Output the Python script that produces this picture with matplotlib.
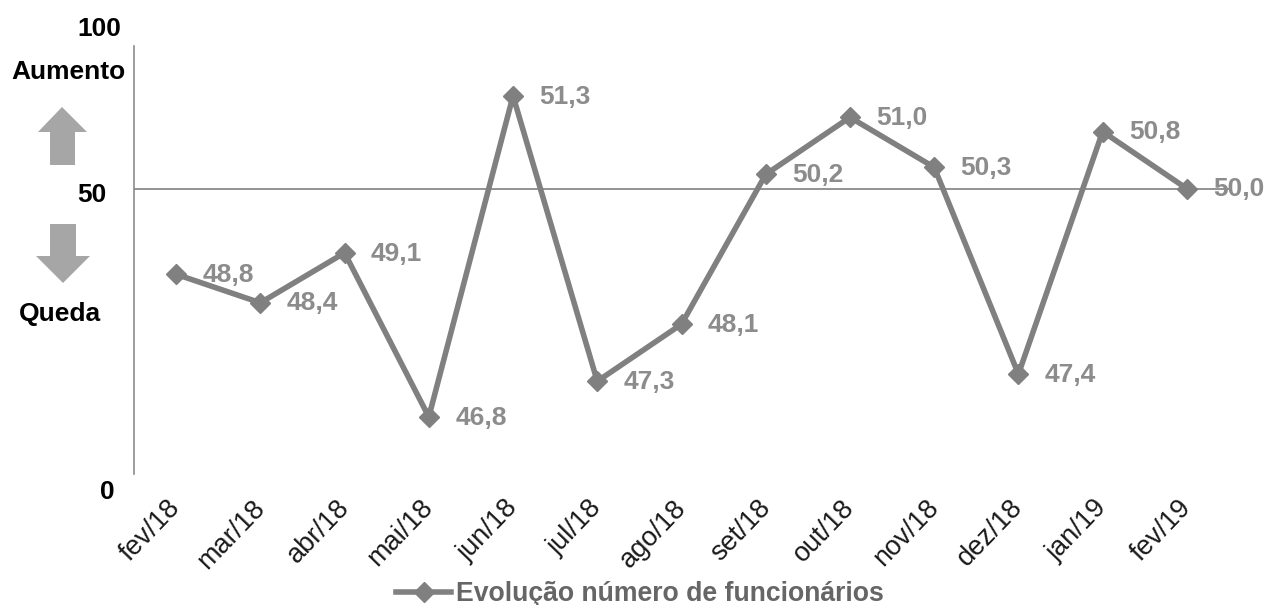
import matplotlib
matplotlib.use("Agg")
import matplotlib.pyplot as plt
from matplotlib.patches import Polygon
from matplotlib.transforms import ScaledTranslation

plt.rcParams['font.family'] = ['Liberation Sans', 'DejaVu Sans']

W, H = 1267, 605

months = ["fev/18", "mar/18", "abr/18", "mai/18", "jun/18", "jul/18", "ago/18",
          "set/18", "out/18", "nov/18", "dez/18", "jan/19", "fev/19"]
values = [48.8, 48.4, 49.1, 46.8, 51.3, 47.3, 48.1, 50.2, 51.0, 50.3, 47.4, 50.8, 50.0]
labels = ["48,8", "48,4", "49,1", "46,8", "51,3", "47,3", "48,1",
          "50,2", "51,0", "50,3", "47,4", "50,8", "50,0"]
series_name = "Evolução número de funcionários"

GREY = "#808080"
LABEL = "#8c8c8c"
ARROW = "#a6a6a6"

fig = plt.figure(figsize=(W / 100, H / 100), dpi=100)
ax = fig.add_axes([134 / W, 1 - 474 / H, (1229 - 134) / W, (474 - 46) / H])

x = list(range(len(months)))
line, = ax.plot(x, values, color=GREY, lw=4, marker="D", ms=10.5, label=series_name)
ax.axhline(50, color=GREY, lw=1.2, zorder=1)

ax.set_xlim(-0.5, len(months) - 0.5)
ax.set_ylim(46, 52)
ax.set_yticks([])
ax.set_xticks(x)
ax.set_xticklabels(months, rotation=46, ha="right", rotation_mode="anchor",
                   fontsize=19.5, color="#1a1a1a")
ax.tick_params(axis="x", length=0, pad=15)
shift = ScaledTranslation(-9 / 100, 0, fig.dpi_scale_trans)
for lab in ax.get_xticklabels():
    lab.set_transform(lab.get_transform() + shift)

for s in ["top", "right", "bottom"]:
    ax.spines[s].set_visible(False)
ax.spines["left"].set_color("#8c8c8c")
ax.spines["left"].set_linewidth(1.2)

for i, (v, t) in enumerate(zip(values, labels)):
    ax.annotate(t, (i, v), xytext=(19, -0.5), textcoords="offset points", va="center",
                fontsize=19, fontweight="bold", color=LABEL)


def px(xp, yp):
    return xp / W, 1 - yp / H


# left hand labels, in figure pixels
for t, xp, yp in [("100", 99, 29), ("Aumento", 68, 72), ("50", 92, 195),
                  ("Queda", 60, 314), ("0", 107, 492)]:
    fig.text(*px(xp, yp), t, ha="center", va="center", fontsize=19,
             fontweight="bold", color="black")

up = [(62, 107), (87, 132), (75, 132), (75, 165), (50, 165), (50, 132), (38, 132)]
down = [(50, 224), (76, 224), (76, 256), (90, 256), (63, 283), (36, 256), (50, 256)]
for pts in (up, down):
    fig.add_artist(Polygon([px(*p) for p in pts], closed=True, facecolor=ARROW,
                           edgecolor="none", transform=fig.transFigure))

fig.legend(handles=[line], loc="center", bbox_to_anchor=(640 / W, 1 - 594 / H), frameon=False,
           prop={"size": 19.2, "weight": "bold"}, labelcolor="#666666", handlelength=2.06,
           handletextpad=0.19)

fig.savefig("out.png", dpi=100)
